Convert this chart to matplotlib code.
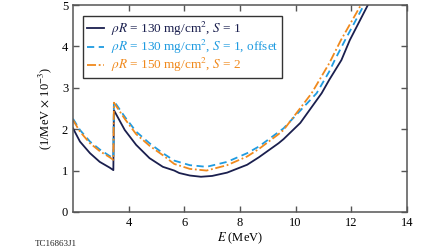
import numpy as np
import matplotlib
matplotlib.use("Agg")
import matplotlib.pyplot as plt

plt.rcParams['font.family'] = ['Liberation Serif', 'DejaVu Serif']
plt.rcParams['mathtext.fontset'] = 'stix'

# energies (MeV) and spectra (1/MeV x 1e-3)
e_s1 = [2.0, 2.25, 2.61, 2.96, 3.32, 3.45,
        3.47, 3.86, 4.27, 4.75, 5.23, 5.64, 5.82, 6.2, 6.6, 7.0, 7.54, 8.26, 8.68,
        9.39, 9.57, 10.17, 10.94, 11.21, 11.65, 11.95, 12.6, 12.8]
v_s1 = [2.02, 1.70, 1.42, 1.21, 1.07, 1.01,
        2.46, 1.98, 1.62, 1.30, 1.09, 1.00, 0.94, 0.88, 0.85, 0.87, 0.95, 1.14, 1.32,
        1.66, 1.76, 2.15, 2.87, 3.19, 3.67, 4.15, 5.0, 5.3]

e_off = [2.0, 2.25, 2.61, 2.96, 3.32, 3.45,
         3.47, 3.86, 4.27, 4.75, 5.23, 5.64, 6.2, 6.8, 7.54, 8.26, 8.68,
         9.57, 10.76, 11.21, 11.41, 11.78, 12.46, 12.66]
v_off = [2.25, 1.98, 1.70, 1.51, 1.35, 1.30,
         2.68, 2.30, 1.94, 1.66, 1.42, 1.24, 1.13, 1.09, 1.21, 1.42, 1.58,
         2.02, 2.87, 3.39, 3.67, 4.15, 5.0, 5.3]

e_s2 = [2.0, 2.25, 2.61, 2.96, 3.32, 3.45,
        3.47, 3.86, 4.27, 4.75, 5.23, 5.64, 6.2, 6.8, 7.54, 8.26, 8.68,
        9.39, 9.57, 10.58, 11.21, 11.63, 12.35, 12.55]
v_s2 = [2.22, 1.94, 1.66, 1.47, 1.32, 1.26,
        2.64, 2.25, 1.88, 1.60, 1.37, 1.16, 1.04, 1.00, 1.13, 1.34, 1.52,
        1.88, 1.98, 2.87, 3.59, 4.15, 5.0, 5.3]

labels = [r"$\rho R$ = 130 mg/cm$^2$, $S$ = 1",
          r"$\rho R$ = 130 mg/cm$^2$, $S$ = 1, offset",
          r"$\rho R$ = 150 mg/cm$^2$, $S$ = 2"]
colors = ["#1a1f4e", "#1f9be0", "#f0891c"]
styles = ["-", (0, (4, 2.5)), (0, (5, 1.5, 1, 1.5))]

fig = plt.figure(figsize=(4.48, 2.52), dpi=100)
ax = fig.add_axes([0.163, 0.159, 0.745, 0.821])

handles = []
for e, v, c, ls in zip([e_s1, e_off, e_s2], [v_s1, v_off, v_s2], colors, styles):
    h, = ax.plot(e, v, color=c, linestyle=ls, linewidth=1.3)
    handles.append(h)

ax.set_xlim(2, 14)
ax.set_ylim(0, 5)
ax.set_xticks([4, 6, 8, 10, 12, 14])
ax.set_yticks([0, 1, 2, 3, 4, 5])
ax.tick_params(direction="in", top=True, right=True, labelsize=9, length=4, color="#555555", width=1)
for s in ax.spines.values():
    s.set_color("#555555")
    s.set_linewidth(1.1)

ax.set_xlabel(r"$E$ (MeV)", fontsize=9, labelpad=1)
ax.set_ylabel(r"(1/MeV $\times$ 10$^{-3}$)", fontsize=9, labelpad=6)

leg = ax.legend(handles, labels, loc="upper left", bbox_to_anchor=(0.03, 0.947), borderaxespad=0,
                fontsize=9.5, handlelength=1.3, handletextpad=0.5, borderpad=0.3, labelspacing=0.0,
                fancybox=False, framealpha=1, edgecolor="#333333")
leg.get_frame().set_linewidth(1.0)
for t, c in zip(leg.get_texts(), colors):
    t.set_color(c)

fig.text(0.078, 0.025, "TC16863J1", fontsize=6.5, color="#222222")

fig.savefig("out.png", dpi=100)
